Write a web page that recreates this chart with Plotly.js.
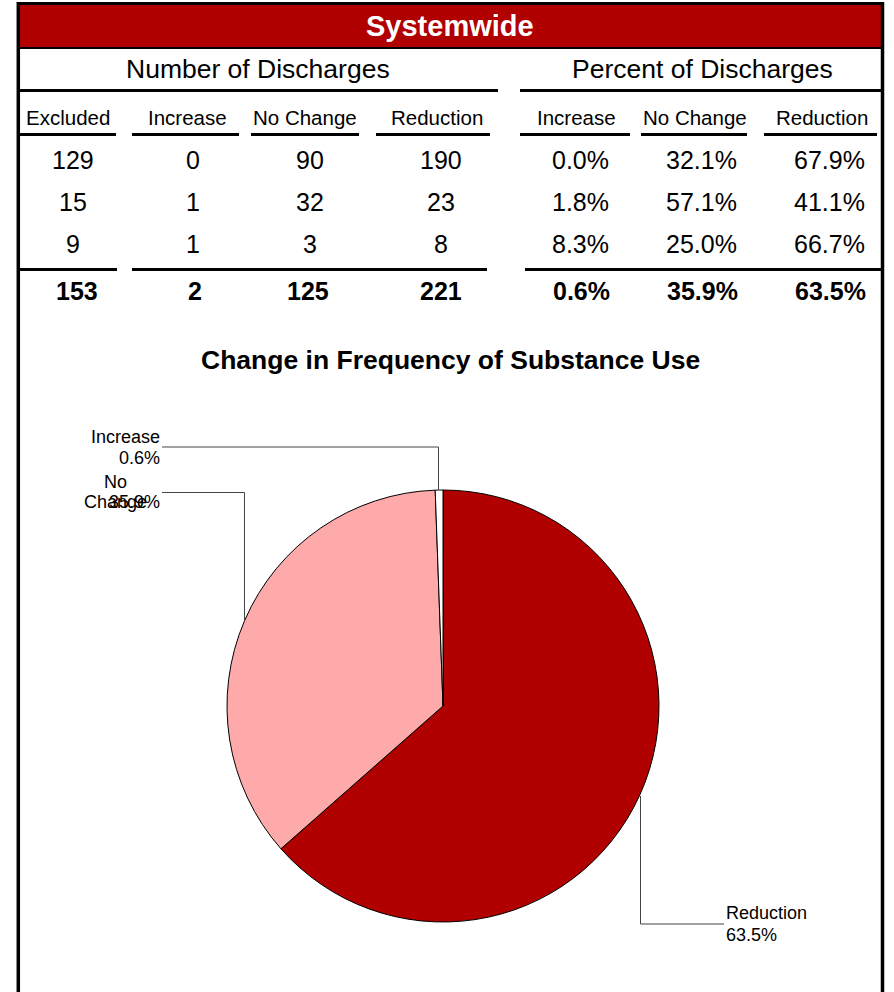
<!DOCTYPE html>
<html>
<head>
<meta charset="utf-8">
<script src="https://cdn.plot.ly/plotly-3.0.1.min.js"></script>
<style>
html,body{margin:0;padding:0;background:#fff;}
#chart{width:894px;height:992px;}
</style>
</head>
<body>
<div id="chart"></div>
<script>
// ---- data ----
var chartTitle = "Systemwide";
var groupHeaders = ["Number of Discharges", "Percent of Discharges"];
var countHeaders = ["Excluded", "Increase", "No Change", "Reduction"];
var pctHeaders = ["Increase", "No Change", "Reduction"];
var excluded = [129, 15, 9];
var increase = [0, 1, 1];
var noChange = [90, 32, 3];
var reduction = [190, 23, 8];
var pctIncrease = [0.0, 1.8, 8.3];
var pctNoChange = [32.1, 57.1, 25.0];
var pctReduction = [67.9, 41.1, 66.7];
var totals = [153, 2, 125, 221];
var totalPct = [0.6, 35.9, 63.5];
var pieTitle = "Change in Frequency of Substance Use";
var pieLabels = ["Reduction", "No Change", "Increase"];
var pieValues = [221, 125, 2];
var pieColors = ["#B00000", "#FFAAAA", "#FFFFFF"];

// ---- helpers (pixel -> paper) ----
var W = 894, H = 992;
function px(x){ return x / W; }
function py(y){ return 1 - y / H; }
var FONT = "Liberation Sans, Arial, sans-serif";

var annotations = [];
var shapes = [];
function txt(s, x, y, size, opts){
  opts = opts || {};
  annotations.push({
    text: s, xref: "paper", yref: "paper", x: px(x), y: py(y),
    xanchor: opts.xanchor || "center", yanchor: "middle", showarrow: false,
    font: {family: FONT, size: size, color: opts.color || "#000"}
  });
}
function hline(x0, x1, y, w, color){
  shapes.push({type: "line", xref: "paper", yref: "paper",
    x0: px(x0), x1: px(x1), y0: py(y), y1: py(y),
    line: {color: color || "#000", width: w}});
}
function vline(x, y0, y1, w, color){
  shapes.push({type: "line", xref: "paper", yref: "paper",
    x0: px(x), x1: px(x), y0: py(y0), y1: py(y1),
    line: {color: color || "#000", width: w}});
}

// frame + header band
shapes.push({type: "rect", xref: "paper", yref: "paper",
  x0: px(18), x1: px(882), y0: py(5), y1: py(47.5),
  fillcolor: "#B00000", line: {width: 0}});
hline(17, 883.5, 3.5, 3);
hline(18, 882, 48, 2);
vline(18.3, 2, 1000, 3.5);
vline(882.5, 2, 1000, 3.5);
txt("<b>" + chartTitle + "</b>", 450, 26, 29, {color: "#fff"});

// group headers
txt(groupHeaders[0], 258, 69, 26.5);
txt(groupHeaders[1], 702, 69, 26.5);
hline(20, 498, 90.5, 3);
hline(520, 881, 90.5, 3);

// column headers
var hdrX = [68, 187, 305, 437, 576, 695, 822];
var hdrSeg = [[20,116],[132,239],[251,359],[376,490],[520,630],[641,747],[764,877]];
var allHdr = countHeaders.concat(pctHeaders);
for (var i = 0; i < allHdr.length; i++){
  txt(allHdr[i], hdrX[i], 118, 20.5);
  hline(hdrSeg[i][0], hdrSeg[i][1], 134.5, 3);
}

// table body
var rowY = [160, 202, 244];
var countCols = [excluded, increase, noChange, reduction];
var countX = [73, 193, 310, 441];
var pctCols = [pctIncrease, pctNoChange, pctReduction];
var pctRight = [611, 739, 867];
for (var r = 0; r < rowY.length; r++){
  for (var c = 0; c < countCols.length; c++){
    txt(String(countCols[c][r]), countX[c], rowY[r], 25);
  }
  for (var c2 = 0; c2 < pctCols.length; c2++){
    txt(pctCols[c2][r].toFixed(1) + "%", pctRight[c2], rowY[r], 25, {xanchor: "right"});
  }
}
hline(17, 117, 269.5, 3);
hline(132, 487, 269.5, 3);
hline(525, 881, 269.5, 3);
var totX = [77, 195, 308, 441];
for (var t = 0; t < totals.length; t++){
  txt("<b>" + totals[t] + "</b>", totX[t], 291, 25);
}
for (var t2 = 0; t2 < totalPct.length; t2++){
  txt("<b>" + totalPct[t2].toFixed(1) + "%</b>", pctRight[t2] + 1, 291, 25, {xanchor: "right"});
}

// pie title
txt("<b>" + pieTitle + "</b>", 451, 360, 26.5);

// pie labels with leader lines
var sum = pieValues.reduce(function(a,b){return a+b;}, 0);
function pct(i){ return (pieValues[i] / sum * 100).toFixed(1) + "%"; }
var LC = "#444";
// Increase
txt(pieLabels[2], 162, 437, 18, {xanchor: "right"});
txt(pct(2), 162, 458, 18, {xanchor: "right"});
hline(162, 438.5, 447, 1, LC); vline(438.5, 447, 490, 1, LC);
// No Change (label wraps and overlaps its value, as in the reference)
var nc = pieLabels[1].split(" ");
txt(nc[0], 115, 482, 18);
txt(nc[1], 115, 502, 18);
txt(pct(1), 162, 502, 18, {xanchor: "right"});
hline(162, 244.5, 492.5, 1, LC); vline(244.5, 492.5, 621, 1, LC);
// Reduction
txt(pieLabels[0], 724, 913, 18, {xanchor: "left"});
txt(pct(0), 724, 935, 18, {xanchor: "left"});
hline(640.5, 724, 924, 1, LC); vline(640.5, 796, 924, 1, LC);

var cx = 443, cy = 706, rad = 216;
var trace = {
  type: "pie",
  labels: pieLabels,
  values: pieValues,
  sort: false,
  direction: "clockwise",
  rotation: 0,
  textinfo: "none",
  hoverinfo: "label+percent",
  marker: {colors: pieColors, line: {color: "#000", width: 1}},
  domain: {x: [px(cx - rad), px(cx + rad)], y: [py(cy + rad), py(cy - rad)]},
  showlegend: false
};

var layout = {
  width: W, height: H,
  margin: {l: 0, r: 0, t: 0, b: 0},
  paper_bgcolor: "#fff",
  plot_bgcolor: "#fff",
  showlegend: false,
  annotations: annotations,
  shapes: shapes
};
Plotly.newPlot("chart", [trace], layout, {staticPlot: true, displayModeBar: false});
</script>
</body>
</html>
